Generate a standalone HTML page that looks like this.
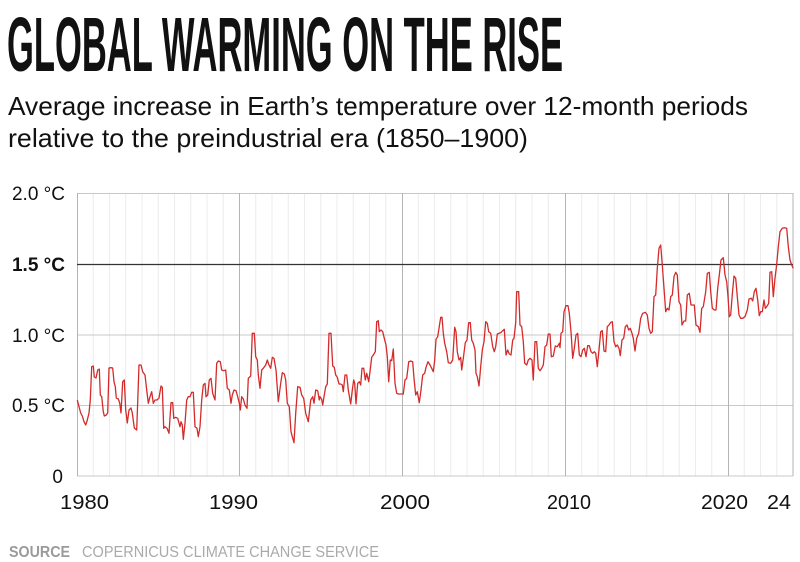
<!DOCTYPE html>
<html><head><meta charset="utf-8"><style>
html,body{margin:0;padding:0;background:#fff;}
svg{display:block;}
</style></head><body>
<svg width="800" height="562" viewBox="0 0 800 562" xmlns="http://www.w3.org/2000/svg">
<rect width="800" height="562" fill="#fff"/>
<text x="7" y="71" font-family="'Liberation Sans Narrow','Liberation Sans',sans-serif" font-weight="bold" font-size="77" fill="#111" textLength="556" lengthAdjust="spacingAndGlyphs">GLOBAL WARMING ON THE RISE</text>
<text x="8" y="115" font-family="'Liberation Sans',sans-serif" font-size="26" fill="#111" textLength="740" lengthAdjust="spacingAndGlyphs">Average increase in Earth’s temperature over 12-month periods</text>
<text x="8" y="147" font-family="'Liberation Sans',sans-serif" font-size="26" fill="#111" textLength="520" lengthAdjust="spacingAndGlyphs">relative to the preindustrial era (1850–1900)</text>

<g stroke="#ececec" stroke-width="1">
<line x1="93.25" y1="193" x2="93.25" y2="476"/><line x1="109.5" y1="193" x2="109.5" y2="476"/><line x1="125.75" y1="193" x2="125.75" y2="476"/><line x1="142" y1="193" x2="142" y2="476"/><line x1="158.25" y1="193" x2="158.25" y2="476"/><line x1="174.5" y1="193" x2="174.5" y2="476"/><line x1="190.75" y1="193" x2="190.75" y2="476"/><line x1="207" y1="193" x2="207" y2="476"/><line x1="223.25" y1="193" x2="223.25" y2="476"/>
<line x1="255.75" y1="193" x2="255.75" y2="476"/><line x1="272" y1="193" x2="272" y2="476"/><line x1="288.25" y1="193" x2="288.25" y2="476"/><line x1="304.5" y1="193" x2="304.5" y2="476"/><line x1="320.75" y1="193" x2="320.75" y2="476"/><line x1="337" y1="193" x2="337" y2="476"/><line x1="353.25" y1="193" x2="353.25" y2="476"/><line x1="369.5" y1="193" x2="369.5" y2="476"/><line x1="385.75" y1="193" x2="385.75" y2="476"/>
<line x1="418.25" y1="193" x2="418.25" y2="476"/><line x1="434.5" y1="193" x2="434.5" y2="476"/><line x1="450.75" y1="193" x2="450.75" y2="476"/><line x1="467" y1="193" x2="467" y2="476"/><line x1="483.25" y1="193" x2="483.25" y2="476"/><line x1="499.5" y1="193" x2="499.5" y2="476"/><line x1="515.75" y1="193" x2="515.75" y2="476"/><line x1="532" y1="193" x2="532" y2="476"/><line x1="548.25" y1="193" x2="548.25" y2="476"/>
<line x1="581.75" y1="193" x2="581.75" y2="476"/><line x1="598" y1="193" x2="598" y2="476"/><line x1="614.25" y1="193" x2="614.25" y2="476"/><line x1="630.5" y1="193" x2="630.5" y2="476"/><line x1="646.75" y1="193" x2="646.75" y2="476"/><line x1="663" y1="193" x2="663" y2="476"/><line x1="679.25" y1="193" x2="679.25" y2="476"/><line x1="695.5" y1="193" x2="695.5" y2="476"/><line x1="711.75" y1="193" x2="711.75" y2="476"/>
<line x1="744.25" y1="193" x2="744.25" y2="476"/><line x1="760.5" y1="193" x2="760.5" y2="476"/><line x1="776.75" y1="193" x2="776.75" y2="476"/>
</g>
<g stroke="#c8c8c8" stroke-width="1">
<line x1="77" y1="193.5" x2="793" y2="193.5"/>
<line x1="77" y1="335" x2="793" y2="335"/>
<line x1="77" y1="405.5" x2="793" y2="405.5"/>
<line x1="77" y1="476" x2="793" y2="476"/>
</g>
<g stroke="#b4b4b4" stroke-width="1">
<line x1="77.5" y1="193" x2="77.5" y2="476"/>
<line x1="239.5" y1="193" x2="239.5" y2="476"/>
<line x1="402.5" y1="193" x2="402.5" y2="476"/>
<line x1="565.5" y1="193" x2="565.5" y2="476"/>
<line x1="728.5" y1="193" x2="728.5" y2="476"/>
<line x1="793" y1="193" x2="793" y2="476"/>
</g>
<line x1="77" y1="264.5" x2="793" y2="264.5" stroke="#333" stroke-width="1.2"/>

<polyline fill="none" stroke="#d42a2a" stroke-width="1.3" stroke-linejoin="round" points="
77.3,400 79,406.7 80.7,413 82.3,416 84,421.7 85.7,425 87.3,420 89,413 90.3,400 91.7,366.7 93.3,366 94.3,377 96,378 97.7,370 99.3,369 100.3,395 101.7,396.7 103.3,411.7 104.3,416 106.3,415 107.7,413 109,368 111,367.7 112.7,368 114,381.7 115.3,386.7 116.3,398 118.3,399 119.7,403 121,413 122.7,381.7 124.3,380 125.7,410 127.3,423 129,410 131,408 132.3,413 134.3,428 136.7,430 139,365 141,365 142.7,371.7 145,375 146.7,390 148.3,403.3 150,396.7 151.7,391.7 153.3,403.3 155,400 157,400 159,398 161,386 162.3,387.3 163.7,428.3 165,426.7 167,428.3 169,433.3 171,402.7 172.7,402.7 173.7,418.3 175.7,417.3 177.7,418.3 180,426.7 181,421.7 182.3,425 183.3,439.3 185,423.3 186.7,400 188.3,396.7 190,396.7 191.7,392.3 193.3,392.3 195,426.7 197,428.3 198.3,436.7 200,426.7 201.7,400 203.3,385 205,383.3 206,396.7 207.7,395 209.3,380 211,378.3 212.7,393.3 215,400 216.7,363.3 218.3,361 220.3,361.7 221.7,370 224,370.7 225.7,370 227.3,388.3 229.3,390 231,403.3 232.3,395 234,390 236,390.7 237.7,396.7 239.3,403.3 240.3,410 241.7,396.7 243.3,399 245,405 247,408.3 248.3,378.3 250.7,376 252.3,333.3 254.3,333.3 255.7,356.7 257.3,360 258.3,375 260,388.3 261.7,370 263.3,368.3 265.7,365 267.3,360 269,365 270.7,368.3 272.3,357.3 274,358.3 276,370 278.3,401.7 280.7,383.3 282.3,372.7 284.3,374 285.7,380 287.3,403.3 289.3,406.7 291,431.7 292.3,436.7 294,442.7 295.7,413.3 297.7,386.7 300,387.3 301.7,395 303.7,398.3 305.7,413.3 308.3,421.7 310.7,400 312.7,396.7 314,403.3 315.7,390 317.7,390.7 319.3,400
320,396.7 321.7,399.3 322.7,405 324,396.7 325.7,386.7 327.3,384 329,333.3 331,333.3 332.7,366 334.3,367.3 335.7,375 337.3,377.3 339,384 340.7,384 342.3,385 343.3,391.7 345,375 346.7,375 348.3,390 350.7,404 352.3,390 353.7,380 354.7,383.3 356,404 357.7,383.3 359.3,381.7 360.7,385 362,368.3 363.7,368.3 365.3,380 366.7,373.3 368.7,381.7 370,371.7 371.7,357.3 373.3,355 375.3,351.7 376.7,321.7 378.3,320.7 379.3,331.7 381,330 382.7,331.7 384.3,338.3 386,345 387.3,356.7 388.7,381.7 390.3,360 391.7,360.7 393.3,349 395,383.3 396.7,393.3 398.3,394 400.7,394 403.3,394 405,380 406.7,378.3 408.7,361.7 410.7,361 412.7,361.7 414,378.3 415.7,395 417.3,391.7 419.3,402.7 421,390 422.7,375 424.7,373.3 426,367.3 428,361.7 430,365 431.7,368.3 433.3,371.7 434.7,360 436,339.3 437.7,336.7 439,328.3 440.7,317.3 442,317.3 443.3,333.3 444.7,343.3 446.7,351.7 448.3,362.7 450.7,363.3 452.7,360 454.7,327.3 456,331.7 457.3,351.7 459,360 460.7,357.3 461.7,370 463.3,358.3 465.3,342.7 467,340 468.7,322.7 470.3,322.7 471.7,340 473.3,343.3 475,350 476,373.3 477.3,376.7 479,386 480.7,366.7 482.3,350 484,341.7 485.7,321.7 487.3,323.3 488.7,331.7 490.7,333.3 492.7,346.7 494.3,351.7 495.7,346.7 497.3,334 499,333.3 500.7,332.7 502.7,330.7 504.3,329.3 506,355 507.7,350 509.3,354 511,355 512.7,340 514,338.3 515.7,322.7 516.7,291.7 518.7,291.7 520,325 521.7,326.7 523.3,341.7 524.7,363.3 526.7,365 528.3,360 530,358.3 532,360 533.3,380 535,341.7 536.7,341.7 538.3,368.3 540,370.7 541.7,368.3 543.3,365 545,346.7 546.7,345 548.3,334 550,334 551.3,356.7 553.3,356 555.3,346 557.3,346.7 559.3,343.3
560,347.7 561,333.3 562.7,331.7 564,311.7 566,305.7 568,305.7 569.3,313.3 571,331.7 572.7,358.3 574.3,348.3 576,335 577.7,333.3 579.3,355 581,356.7 582.7,350 584.3,348.3 586,356.7 587.7,345.7 589.3,345.7 591,351.7 592.7,353.3 594.3,351.7 595.7,353.3 597.3,366.7 599,350 600.7,331.7 602.3,330.7 604,351 605.7,351.7 607.3,326.7 609,325 610.7,322.3 612.3,321.7 614,341.7 615.7,346.7 617.3,345 619,348.3 620.3,355.7 622,340 623.7,338.3 625.3,326.7 627,325 628.7,330 630.3,328.3 632,333.3 633.3,338.3 635,351 636.7,338.3 638.7,333.3 640.7,318.3 642.7,313.3 645.3,312.3 647.3,315 649,328.3 650.7,333.3 652.3,331.7 654,296.7 655.7,295 657.3,268.3 659,248.3 660.7,245 662.3,265 664,288.3 665.7,311.7 667.3,308.3 669,310 670.7,296.7 672.3,295 674,276.7 675.7,272.3 677.3,275 679,301.7 680.7,305 682,325 684,321 685.7,321 687.3,295 689.3,293.3 691,305 692.7,305 694.3,305 696,325 698.3,326.7 700,332.3 701.7,308.3 703.3,306.7 705.7,291.7 707.3,273.3 709.3,272.3 710.7,291.7 712.3,308.3 714.3,310 716,310 717.7,288.3 719.3,275 721,260 723.3,257.7 725,275 726.7,281.7 728,296.7 729.3,316.7 730.7,315 732.3,294.3 734,276 735.7,278.3 737.3,296.7 739,315 740.7,318.3 742.7,318.3 745,316.7 747.3,310 749,299 751.3,298.3 752.7,301 754.3,291.7 756,288.3 757.7,300 759.3,315.7 760.7,311.7 762.3,311.7 764,300 765.3,308.3 766.7,306.7 768.7,303.3 770,272.3 771.7,271.7 773.3,296.7 775,278.3 776.7,264.3 778.3,246.7 780,231.7 782.3,228.3 784.3,227.7 786.7,228.3 788.3,246.7 790,260 791.7,265 793.3,268.3"/>

<g font-family="'Liberation Sans',sans-serif" font-size="19" fill="#111" text-anchor="end">
<text x="65" y="200">2.0 °C</text>
<text x="65" y="271" font-weight="bold">1.5 °C</text>
<text x="65" y="342">1.0 °C</text>
<text x="65" y="412">0.5 °C</text>
<text x="63" y="483">0</text>
</g>
<g font-family="'Liberation Sans',sans-serif" font-size="20" fill="#111">
<text x="60" y="509" textLength="49" lengthAdjust="spacingAndGlyphs">1980</text>
<text x="209" y="509" textLength="49" lengthAdjust="spacingAndGlyphs">1990</text>
<text x="380" y="509" textLength="50" lengthAdjust="spacingAndGlyphs">2000</text>
<text x="547" y="509" textLength="44" lengthAdjust="spacingAndGlyphs">2010</text>
<text x="701" y="509" textLength="47" lengthAdjust="spacingAndGlyphs">2020</text>
<text x="767" y="509" textLength="24" lengthAdjust="spacingAndGlyphs">24</text>
</g>
<text x="9" y="557" font-family="'Liberation Sans',sans-serif" font-size="16" font-weight="bold" fill="#9a9a9a" textLength="61" lengthAdjust="spacingAndGlyphs">SOURCE</text>
<text x="82" y="557" font-family="'Liberation Sans',sans-serif" font-size="16" fill="#aaaaaa" textLength="297" lengthAdjust="spacingAndGlyphs">COPERNICUS CLIMATE CHANGE SERVICE</text>
</svg>
</body></html>
